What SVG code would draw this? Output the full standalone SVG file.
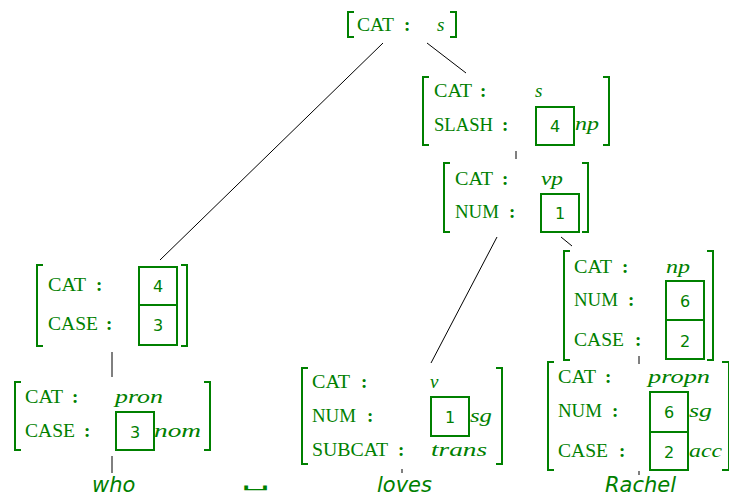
<svg xmlns="http://www.w3.org/2000/svg" width="729" height="496" viewBox="0 0 729 496">
<style>
.b{fill:none;stroke:#008000;stroke-width:2}
.k{fill:none;stroke:#008000;stroke-width:2}
.l{font-family:"Liberation Serif",serif;font-size:19px;fill:#008000}
.c{font-family:"Liberation Serif",serif;font-size:19px;font-weight:bold;fill:#008000}
.v{font-family:"Liberation Serif",serif;font-style:italic;font-size:19px;fill:#008000}
.n{font-family:"DejaVu Sans",sans-serif;font-size:16px;fill:#008000;text-anchor:middle}
.w{font-family:"DejaVu Sans",sans-serif;font-style:oblique;font-size:21px;fill:#008000}
.e{stroke:#000;stroke-width:1;fill:none}
</style>
<rect width="729" height="496" fill="#fff"/>
<g id="connectors">
<line class="e" x1="383" y1="43" x2="160" y2="260"/>
<line class="e" x1="427" y1="43" x2="466" y2="73"/>
<line class="e" x1="516" y1="151" x2="516" y2="159"/>
<line class="e" x1="497" y1="237" x2="431" y2="363"/>
<line class="e" x1="561" y1="237" x2="572" y2="246"/>
<line class="e" x1="639" y1="356" x2="639" y2="364"/>
<line class="e" x1="639" y1="471" x2="639" y2="475"/>
<line class="e" x1="402" y1="469" x2="402" y2="473"/>
<line class="e" x1="112" y1="352" x2="112" y2="377"/>
<line class="e" x1="112" y1="456" x2="112" y2="473"/>
</g>
<g id="n-top">
<path class="b" d="M354,12H348V37H354M450,12H456V37H450"/>
<text class="l" x="357" y="31" textLength="37" lengthAdjust="spacingAndGlyphs">CAT</text><text class="c" x="404" y="31">:</text>
<text class="v" x="437" y="31">s</text>
</g>
<g id="n-s-slash">
<path class="b" d="M429,77H423V145H429M603,77H609V145H603"/>
<text class="l" x="434" y="97" textLength="38" lengthAdjust="spacingAndGlyphs">CAT</text><text class="c" x="480" y="97">:</text>
<text class="v" x="535" y="97">s</text>
<text class="l" x="434" y="131" textLength="59" lengthAdjust="spacingAndGlyphs">SLASH</text><text class="c" x="502" y="131">:</text>
<rect class="k" x="536" y="107" width="38" height="38"/><text class="n" x="555" y="132">4</text>
<text class="v" x="575" y="130" textLength="24" lengthAdjust="spacingAndGlyphs">np</text>
</g>
<g id="n-vp">
<path class="b" d="M450,163H444V232H450M582,163H588V232H582"/>
<text class="l" x="455" y="185" textLength="38" lengthAdjust="spacingAndGlyphs">CAT</text><text class="c" x="502" y="185">:</text>
<text class="v" x="541" y="185" textLength="22" lengthAdjust="spacingAndGlyphs">vp</text>
<text class="l" x="455" y="218" textLength="44" lengthAdjust="spacingAndGlyphs">NUM</text><text class="c" x="509" y="218">:</text>
<rect class="k" x="541" y="194" width="38" height="38"/><text class="n" x="560" y="219">1</text>
</g>
<g id="n-np">
<path class="b" d="M570,251H564V360H570M707,251H713V360H707"/>
<text class="l" x="574" y="273" textLength="38" lengthAdjust="spacingAndGlyphs">CAT</text><text class="c" x="622" y="273">:</text>
<text class="v" x="666" y="273" textLength="24" lengthAdjust="spacingAndGlyphs">np</text>
<text class="l" x="574" y="306" textLength="44" lengthAdjust="spacingAndGlyphs">NUM</text><text class="c" x="628" y="306">:</text>
<rect class="k" x="666" y="281" width="38" height="39"/><text class="n" x="685" y="307">6</text>
<text class="l" x="574" y="346" textLength="50" lengthAdjust="spacingAndGlyphs">CASE</text><text class="c" x="635" y="346">:</text>
<rect class="k" x="666" y="320" width="38" height="39"/><text class="n" x="685" y="347">2</text>
</g>
<g id="n-propn">
<path class="b" d="M554,362H548V470H554M722,362H729V470H722"/>
<text class="l" x="558" y="383" textLength="38" lengthAdjust="spacingAndGlyphs">CAT</text><text class="c" x="605" y="383">:</text>
<text class="v" x="648" y="383" textLength="62" lengthAdjust="spacingAndGlyphs">propn</text>
<text class="l" x="558" y="417" textLength="44" lengthAdjust="spacingAndGlyphs">NUM</text><text class="c" x="612" y="417">:</text>
<rect class="k" x="650" y="392" width="38" height="40"/><text class="n" x="669" y="418">6</text>
<text class="v" x="689" y="417" textLength="23" lengthAdjust="spacingAndGlyphs">sg</text>
<text class="l" x="558" y="457" textLength="50" lengthAdjust="spacingAndGlyphs">CASE</text><text class="c" x="619" y="457">:</text>
<rect class="k" x="650" y="432" width="38" height="38"/><text class="n" x="669" y="458">2</text>
<text class="v" x="689" y="457" textLength="33" lengthAdjust="spacingAndGlyphs">acc</text>
</g>
<g id="n-v">
<path class="b" d="M308,368H302V464H308M496,368H502V464H496"/>
<text class="l" x="312" y="388" textLength="38" lengthAdjust="spacingAndGlyphs">CAT</text><text class="c" x="361" y="388">:</text>
<text class="v" x="430" y="388">v</text>
<text class="l" x="312" y="422" textLength="44" lengthAdjust="spacingAndGlyphs">NUM</text><text class="c" x="367" y="422">:</text>
<rect class="k" x="431" y="397" width="38" height="39"/><text class="n" x="450" y="423">1</text>
<text class="v" x="470" y="422" textLength="22" lengthAdjust="spacingAndGlyphs">sg</text>
<text class="l" x="312" y="456" textLength="76" lengthAdjust="spacingAndGlyphs">SUBCAT</text><text class="c" x="398" y="456">:</text>
<text class="v" x="431" y="456" textLength="56" lengthAdjust="spacingAndGlyphs">trans</text>
</g>
<g id="n-np-left">
<path class="b" d="M43,265H37V346H43M181,265H187V346H181"/>
<text class="l" x="48" y="291" textLength="38" lengthAdjust="spacingAndGlyphs">CAT</text><text class="c" x="96" y="291">:</text>
<rect class="k" x="139" y="267" width="38" height="38"/><text class="n" x="158" y="292">4</text>
<text class="l" x="48" y="330" textLength="50" lengthAdjust="spacingAndGlyphs">CASE</text><text class="c" x="106" y="330">:</text>
<rect class="k" x="139" y="305" width="38" height="40"/><text class="n" x="158" y="331">3</text>
</g>
<g id="n-pron">
<path class="b" d="M21,382H15V450H21M204,382H210V450H204"/>
<text class="l" x="25" y="403" textLength="38" lengthAdjust="spacingAndGlyphs">CAT</text><text class="c" x="72" y="403">:</text>
<text class="v" x="115" y="403" textLength="48" lengthAdjust="spacingAndGlyphs">pron</text>
<text class="l" x="25" y="437" textLength="50" lengthAdjust="spacingAndGlyphs">CASE</text><text class="c" x="84" y="437">:</text>
<rect class="k" x="116" y="412" width="38" height="38"/><text class="n" x="135" y="438">3</text>
<text class="v" x="154" y="437" textLength="47" lengthAdjust="spacingAndGlyphs">nom</text>
</g>
<g id="w-who"><text class="w" x="92" y="492">who</text></g>
<g id="w-gap"><text x="241" y="487" font-family="DejaVu Sans,sans-serif" font-size="14" fill="#008000" textLength="29" lengthAdjust="spacingAndGlyphs">␣</text></g>
<g id="w-loves"><text class="w" x="377" y="492">loves</text></g>
<g id="w-rachel"><text class="w" x="605" y="492">Rachel</text></g>
</svg>
